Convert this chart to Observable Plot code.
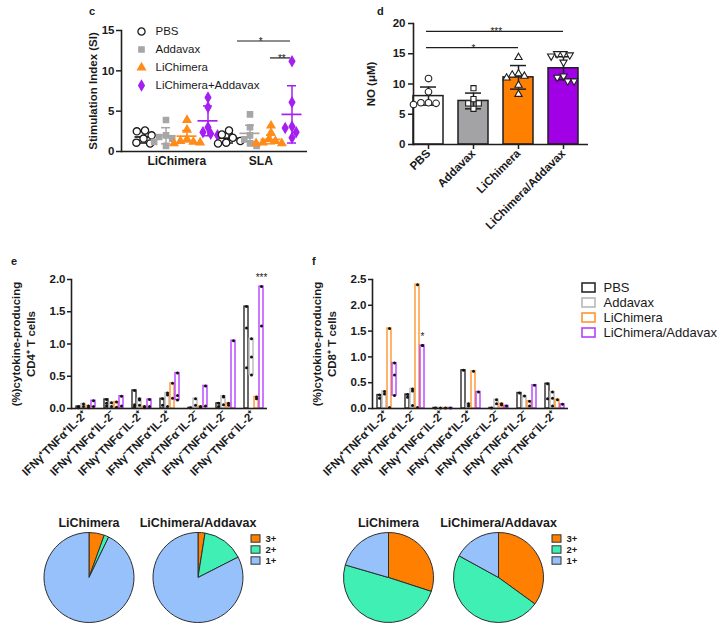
<!DOCTYPE html>
<html>
<head>
<meta charset="utf-8">
<script src="https://cdn.jsdelivr.net/npm/d3@7"></script>
<script src="https://cdn.jsdelivr.net/npm/@observablehq/plot@0.6"></script>
<style>
  html, body { margin: 0; padding: 0; background: #fff; }
  #root { position: relative; width: 720px; height: 634px; overflow: hidden; background: #fff;
          font-family: "Liberation Sans", Arial, Helvetica, sans-serif; color: #1a1a1a; }
  .panel-letter { position: absolute; font-weight: bold; font-size: 11px; line-height: 1; }
</style>
</head>
<body>
<div id="root">
  <div class="panel-letter" style="left:89px;top:6px">c</div>
  <div class="panel-letter" style="left:377px;top:6px">d</div>
  <div class="panel-letter" style="left:11px;top:256px">e</div>
  <div class="panel-letter" style="left:312px;top:256px">f</div>
</div>
<script>
// ---------------- Panel c: stimulation index ----------------
const siGroups = ["LiChimera", "SLA"];
const siSeries = ["PBS", "Addavax", "LiChimera", "LiChimera+Addavax"];
const siMean = [[1.8, 1.95, 1.9, 3.8], [1.65, 2.25, 1.5, 4.6]];
const siSd = [[0.75, 1.0, 0.7, 1.85], [0.6, 1.0, 0.55, 3.55]];
const siPoints = [
  [[2.6, 2.5, 2.0, 1.6, 1.1, 1.0], [3.9, 2.0, 1.8, 1.6, 1.2, 0.7], [3.9, 2.7, 1.5, 1.3, 1.2, 1.1, 1.0], [6.7, 5.5, 3.0, 2.4, 2.2, 2.0]],
  [[2.6, 2.1, 1.7, 1.3, 1.1, 1.0], [4.6, 3.0, 2.0, 1.5, 1.0, 0.7], [3.2, 2.3, 1.5, 1.3, 1.1, 1.0, 1.0], [11.2, 6.1, 3.1, 2.9, 2.4, 1.7]]
];
const siSig = [
  {group: "SLA", from: "PBS", to: "LiChimera+Addavax", mid: "Addavax", y: 13.7, label: "*"},
  {group: "SLA", from: "LiChimera", to: "LiChimera+Addavax", mid: "LiChimera", y: 11.6, label: "**"}
];
const siFill = ["#ffffff", "#a6a6a6", "#ff8c1a", "#a51ff2"];
const siStroke = ["#1a1a1a", "#a6a6a6", "#ff8c1a", "#a51ff2"];
const siSymbols = ["circle", "square", "triangle", "diamond"];
const siSize = [3.6, 3.0, 2.9, 3.0];

// ---------------- Panel d: NO ----------------
const noCats = ["PBS", "Addavax", "LiChimera", "LiChimera/Addavax"];
const noMean = [8.0, 7.2, 11.1, 12.6];
const noSd = [1.5, 1.3, 1.95, 1.9];
const noPoints = [
  [10.9, 8.7, 6.9, 6.9, 6.8, 6.6],
  [9.3, 7.5, 6.8, 6.8, 5.9],
  [14.4, 11.7, 11.5, 11.3, 11.0, 9.8, 8.3],
  [15.0, 15.0, 14.8, 14.6, 13.6, 11.3, 11.1, 10.5, 10.5]
];
const noSig = [
  {from: "PBS", to: "LiChimera", y: 16, label: "*"},
  {from: "PBS", to: "LiChimera/Addavax", y: 18.7, label: "***"}
];
const noFill = ["#ffffff", "#a3a3a5", "#ff8000", "#a100e6"];
const noSize = [3.3, 2.9, 2.7, 2.7];

// ---------------- Panels e/f: cytokine-producing T cells ----------------
const cytoCats = ["IFNγ⁺TNFα⁺IL-2⁺", "IFNγ⁺TNFα⁺IL-2⁻", "IFNγ⁺TNFα⁻IL-2⁺", "IFNγ⁻TNFα⁺IL-2⁺", "IFNγ⁺TNFα⁻IL-2⁻", "IFNγ⁻TNFα⁺IL-2⁻", "IFNγ⁻TNFα⁻IL-2⁺"];
const cySeries = ["PBS", "Addavax", "LiChimera", "LiChimera/Addavax"];
const barStroke = ["#2b2b2b", "#b8b8b8", "#ff9430", "#b540ff"];

const cd4Hi = [
  [0.03, 0.07, 0.04, 0.12], [0.14, 0.09, 0.10, 0.19], [0.28, 0.15, 0.03, 0.14], [0.15, 0.24, 0.39, 0.55],
  [0.01, 0.15, 0.03, 0.35], [0.08, 0.19, 0.08, 1.05], [1.58, 1.08, 0.18, 1.89]
];
const cd4Lo = [
  [0, 0, 0, 0.02], [0, 0, 0, 0], [0, 0, 0, 0], [0, 0, 0, 0.13],
  [0, 0, 0, 0.02], [0, 0, 0, 0], [0, 0.52, 0, 0]
];
const cd4Pts = [
  [[0.03, 0.01], [0.07, 0.03], [0.04, 0.01], [0.12, 0.03]],
  [[0.14, 0.08, 0.04], [0.09, 0.03], [0.10, 0.02], [0.19, 0.04]],
  [[0.28, 0.06, 0.03], [0.15, 0.13, 0.05], [0.03, 0.01], [0.14, 0.03]],
  [[0.15, 0.05], [0.24, 0.21, 0.03], [0.39, 0.16], [0.55, 0.20, 0.13]],
  [[0.01], [0.15, 0.05], [0.03, 0.02], [0.35, 0.04]],
  [[0.08, 0.03], [0.19, 0.18, 0.06], [0.08, 0.05], [1.05]],
  [[1.58, 1.25, 0.63], [1.08, 0.80, 0.52], [0.18, 0.15], [1.89, 1.28]]
];
const cd4Sig = [{c: cytoCats[6], s: "LiChimera/Addavax", y: 1.89, label: "***"}];

const cd8Hi = [
  [0.26, 0.33, 1.55, 0.88], [0.27, 0.38, 2.40, 1.22], [0.01, 0.01, 0.01, 0.01], [0.74, 0.09, 0.72, 0.32],
  [0.01, 0.17, 0.09, 0.05], [0.30, 0.24, 0.14, 0.45], [0.48, 0.32, 0.17, 0.08]
];
const cd8Lo = [
  [0, 0, 0, 0.25], [0, 0, 0, 0], [0, 0, 0, 0], [0, 0, 0, 0],
  [0, 0, 0, 0], [0, 0, 0, 0], [0, 0, 0, 0]
];
const cd8Pts = [
  [[0.26, 0.20], [0.33, 0.28], [1.55, 0.02], [0.88, 0.65, 0.25]],
  [[0.27, 0.22], [0.38, 0.34, 0.06], [2.40, 0.02], [1.22, 1.22]],
  [[0.01], [0.01], [0.01], [0.01]],
  [[0.74], [0.09, 0.05], [0.72], [0.32]],
  [[0.01], [0.17, 0.09], [0.09, 0.07], [0.05]],
  [[0.30], [0.24], [0.14, 0.05], [0.45]],
  [[0.48, 0.19], [0.32, 0.20, 0.05], [0.17], [0.08]]
];
const cd8Sig = [{c: cytoCats[1], s: "LiChimera/Addavax", y: 1.22, label: "*"}];

// ---------------- Pies ----------------
const pieNames = ["LiChimera", "LiChimera/Addavax"];
const pieLabels = ["3+", "2+", "1+"];
const pieColors = ["#ff7f00", "#40efb3", "#96c1fa"];
const cd4Pie = [[0.055, 0.017, 0.928], [0.025, 0.15, 0.825]];
const cd8Pie = [[0.30, 0.495, 0.205], [0.35, 0.48, 0.17]];

// ---------------- helpers ----------------
const FONT = '"Liberation Sans", Arial, Helvetica, sans-serif';
const INK = "#1f1f1f";
const baseStyle = {fontFamily: FONT, fontSize: "11px", background: "transparent", overflow: "visible", color: "#1a1a1a"};
const root = document.getElementById("root");
function place(svg, left, top) {
  svg.style.position = "absolute";
  svg.style.left = left + "px";
  svg.style.top = top + "px";
  root.appendChild(svg);
}
const key = (g, s) => g + "|" + s;
const yTitle = {frameAnchor: "left", rotate: -90, textAnchor: "middle", lineAnchor: "middle", fontWeight: "bold", fontSize: 11.5};

// ================= Panel c =================
const siKeys = siGroups.flatMap(g => siSeries.map(s => key(g, s)));
const siStats = siGroups.flatMap((g, i) => siSeries.map((s, j) => ({k: key(g, s), j, m: siMean[i][j], sd: siSd[i][j]})));
const siDots = siGroups.flatMap((g, i) => siSeries.flatMap((s, j) => siPoints[i][j].map(v => ({k: key(g, s), s, j, v}))));
const cDims = {width: 320, height: 200, marginLeft: 121, marginRight: 13, marginTop: 30, marginBottom: 49};
const cBand = {domain: siKeys, paddingInner: 0, paddingOuter: 0.305, align: 0.7};

place(Plot.plot({
  ...cDims, style: baseStyle,
  x: {...cBand, axis: null},
  y: {domain: [0, 15]},
  color: {type: "identity"},
  marks: [
    Plot.ruleX(siStats, {x: "k", y1: d => d.m - d.sd, y2: d => d.m + d.sd, stroke: d => siStroke[d.j], strokeWidth: 1.5}),
    Plot.tickY(siStats, {x: "k", y: "m", stroke: d => siStroke[d.j], strokeWidth: 1.7, inset: 0.5}),
    Plot.tickY(siStats, {x: "k", y: d => d.m + d.sd, stroke: d => siStroke[d.j], strokeWidth: 1.5, inset: 6}),
    Plot.tickY(siStats, {x: "k", y: d => d.m - d.sd, stroke: d => siStroke[d.j], strokeWidth: 1.5, inset: 6}),
    Plot.ruleY([0], {stroke: INK, strokeWidth: 1.6}),
    Plot.frame({anchor: "left", stroke: INK, strokeWidth: 1.6}),
    Plot.axisY({ticks: [0, 5, 10, 15], tickSize: 5, tickPadding: 2, fontWeight: "bold", fontSize: 11.5, stroke: INK, strokeWidth: 1.5, label: null}),
    Plot.text(["Stimulation Index (SI)"], {...yTitle, dx: -28}),
    Plot.text(siGroups, {x: g => key(g, "Addavax"), frameAnchor: "bottom", dx: 10.8, dy: 5, lineAnchor: "top", fontWeight: "bold", fontSize: 12}),
    Plot.ruleY([siSig[0]], {x1: d => key(d.group, d.from), x2: d => key(d.group, d.to), y: "y", insetLeft: 19, insetRight: 12, stroke: INK, strokeWidth: 1.2}),
    Plot.ruleY([siSig[1]], {x1: d => key(d.group, d.from), x2: d => key(d.group, d.to), y: "y", insetLeft: 10, insetRight: 12, stroke: INK, strokeWidth: 1.2}),
    Plot.text(siSig, {x: d => key(d.group, d.mid), y: "y", text: "label", dx: 10.8, dy: 4, lineAnchor: "bottom", fontSize: 10})
  ]
}), 0, 0);

place(Plot.plot({
  ...cDims, style: baseStyle,
  fx: {...cBand, axis: null, label: null},
  y: {domain: [0, 15], axis: null},
  r: {type: "identity"},
  symbol: {domain: siSeries, range: siSymbols},
  color: {type: "identity"},
  marks: [
    Plot.dot(siDots, Plot.dodgeX("middle", {fx: "k", y: "v", symbol: "s", r: d => siSize[d.j], fill: d => siFill[d.j], stroke: d => siStroke[d.j], strokeWidth: 1.3, padding: -0.5}))
  ]
}), 0, 0);

place(Plot.plot({
  width: 180, height: 56, marginLeft: 0, marginRight: 0, marginTop: 0, marginBottom: 0, style: baseStyle,
  y: {domain: siSeries, padding: 0, axis: null},
  r: {type: "identity"},
  symbol: {domain: siSeries, range: siSymbols},
  color: {type: "identity"},
  marks: [
    Plot.dot(siSeries, {y: d => d, frameAnchor: "left", dx: 6, symbol: d => d, r: (d, i) => siSize[i], fill: (d, i) => siFill[i], stroke: (d, i) => siStroke[i], strokeWidth: 1.3}),
    Plot.text(siSeries, {y: d => d, frameAnchor: "left", dx: 20, textAnchor: "start", fontSize: 11.5})
  ]
}), 135, 30);

// ================= Panel d =================
const noRows = noCats.map((c, j) => ({c, j, m: noMean[j], sd: noSd[j]}));
const noDots = noCats.flatMap((c, j) => noPoints[j].map(v => ({c, j, v})));
const dDims = {width: 240, height: 240, marginLeft: 53, marginRight: 12, marginTop: 23, marginBottom: 96};
const dBand = {domain: noCats, paddingInner: 0.344, paddingOuter: 0.087, align: 0};

place(Plot.plot({
  ...dDims, style: baseStyle,
  x: {...dBand},
  y: {domain: [0, 20]},
  color: {type: "identity"},
  marks: [
    Plot.barY(noRows, {x: "c", y: "m", fill: d => noFill[d.j], stroke: INK, strokeWidth: 1.5}),
    Plot.ruleX(noRows, {x: "c", y1: d => d.m - d.sd, y2: d => d.m + d.sd, stroke: INK, strokeWidth: 1.5}),
    Plot.tickY(noRows, {x: "c", y: d => d.m + d.sd, stroke: INK, strokeWidth: 1.5, inset: 7}),
    Plot.tickY(noRows, {x: "c", y: d => d.m - d.sd, stroke: INK, strokeWidth: 1.5, inset: 7}),
    Plot.ruleY([0], {stroke: INK, strokeWidth: 1.6}),
    Plot.frame({anchor: "left", stroke: INK, strokeWidth: 1.6}),
    Plot.axisY({ticks: [0, 5, 10, 15, 20], tickSize: 5, tickPadding: 3, fontWeight: "bold", fontSize: 11.5, stroke: INK, strokeWidth: 1.5, label: null}),
    Plot.axisX({tickRotate: -45, tickSize: 5, tickPadding: 2, fontWeight: "bold", fontSize: 11.5, stroke: INK, strokeWidth: 1.5, label: null}),
    Plot.text(["NO (μM)"], {...yTitle, dx: -42}),
    Plot.ruleY(noSig, {x1: "from", x2: "to", y: "y", insetLeft: 13, insetRight: 15, stroke: INK, strokeWidth: 1.2}),
    Plot.text(noSig, {filter: d => d.label === "*", x: () => "Addavax", y: "y", text: "label", dy: 4, lineAnchor: "bottom", fontSize: 10}),
    Plot.text(noSig, {filter: d => d.label === "***", x: () => "Addavax", y: "y", text: "label", dx: 22.8, dy: 4, lineAnchor: "bottom", fontSize: 10})
  ]
}), 360, 0);

place(Plot.plot({
  ...dDims, style: baseStyle,
  fx: {...dBand, axis: null, label: null},
  y: {domain: [0, 20], axis: null},
  r: {type: "identity"},
  symbol: {domain: noCats, range: ["circle", "square", "triangle", "triangle"]},
  marks: [
    Plot.dot(noDots, Plot.dodgeX("middle", {fx: "c", y: "v", symbol: "c", rotate: d => d.j === 3 ? 180 : 0, r: d => noSize[d.j], fill: "white", stroke: INK, strokeWidth: 1.1, padding: 0.3}))
  ]
}), 360, 0);

// ================= Panels e / f =================
function cytoPlot({hi, lo, pts, sig, yMax, yTicks, line2, marginLeft, marginRight}) {
  const bars = cytoCats.flatMap((c, i) => cySeries.map((s, j) => ({c, s, j, lo: lo[i][j], hi: hi[i][j]})));
  const dots = cytoCats.flatMap((c, i) => cySeries.flatMap((s, j) => pts[i][j].map(v => ({c, s, v}))));
  return Plot.plot({
    width: 300, height: 262, marginLeft, marginRight, marginTop: 39, marginBottom: 94, style: baseStyle,
    fx: {domain: cytoCats, padding: 0, label: null},
    x: {domain: cySeries, paddingInner: 0.2, paddingOuter: 0.6, axis: null},
    y: {domain: [0, yMax]},
    color: {type: "identity"},
    marks: [
      Plot.barY(bars, {fx: "c", x: "s", y1: "lo", y2: "hi", fill: "white", stroke: d => barStroke[d.j], strokeWidth: 1.4}),
      Plot.dot(dots, {fx: "c", x: "s", y: "v", r: 1.5, fill: "#111"}),
      Plot.ruleY([0], {stroke: INK, strokeWidth: 1.6}),
      Plot.frame({anchor: "left", facetAnchor: "left", stroke: INK, strokeWidth: 1.6}),
      Plot.axisY({ticks: yTicks, tickFormat: d3.format(".1f"), tickSize: 4, tickPadding: 2, fontWeight: "bold", fontSize: 11.5, stroke: INK, strokeWidth: 1.5, label: null}),
      Plot.axisFx({anchor: "bottom", tickRotate: -45, tickSize: 0, tickPadding: 4, fontWeight: "bold", fontSize: 11.5, label: null}),
      Plot.text(["(%)cytokine-producing"], {...yTitle, fx: () => cytoCats[0], dx: -55}),
      Plot.text([line2], {...yTitle, fx: () => cytoCats[0], dx: -40}),
      Plot.text(sig, {fx: "c", x: "s", y: "y", text: "label", dy: -9, fontSize: 10})
    ]
  });
}
place(cytoPlot({hi: cd4Hi, lo: cd4Lo, pts: cd4Pts, sig: cd4Sig, yMax: 2.0, yTicks: [0, 0.5, 1, 1.5, 2], line2: "CD4⁺ T cells", marginLeft: 71, marginRight: 33}), 0, 240);
place(cytoPlot({hi: cd8Hi, lo: cd8Lo, pts: cd8Pts, sig: cd8Sig, yMax: 2.5, yTicks: [0, 0.5, 1, 1.5, 2, 2.5], line2: "CD8⁺ T cells", marginLeft: 72, marginRight: 32}), 300, 240);

place(Plot.plot({
  width: 140, height: 60, marginLeft: 4, marginRight: 123, marginTop: 0, marginBottom: 0, style: baseStyle,
  x: {domain: [0, 1], axis: null},
  y: {domain: cySeries, padding: 0, axis: null},
  color: {type: "identity"},
  marks: [
    Plot.barX(cySeries, {y: d => d, x1: 0, x2: 1, fill: "white", stroke: (d, i) => barStroke[i], strokeWidth: 1.6, insetTop: 3, insetBottom: 3}),
    Plot.text(cySeries, {y: d => d, frameAnchor: "right", dx: 8, textAnchor: "start", fontSize: 13})
  ]
}), 578, 280);

// ================= Pies =================
function wedge(a0, a1) {
  return {draw(context, size) {
    const r = Math.sqrt(size / Math.PI);
    context.moveTo(0, 0);
    context.arc(0, 0, r, a0 - Math.PI / 2, a1 - Math.PI / 2);
    context.closePath();
  }};
}
function piePlot(shares, marginLeft, marginRight) {
  const marks = [];
  pieNames.forEach((name, i) => {
    d3.pie().sort(null)(shares[i]).forEach((a, j) => {
      marks.push(Plot.dot([name], {x: d => d, frameAnchor: "middle", r: 45, symbol: wedge(a.startAngle, a.endAngle),
        fill: pieColors[j], stroke: "#2e2e2e", strokeWidth: 1}));
    });
  });
  marks.push(Plot.axisX({anchor: "top", tickSize: 0, tickPadding: 6, fontWeight: "bold", fontSize: 12.5, label: null}));
  return Plot.plot({width: 300, height: 129, marginLeft, marginRight, marginTop: 27, marginBottom: 12, style: baseStyle,
    x: {type: "band", domain: pieNames, padding: 0}, marks});
}
function pieLegend() {
  return Plot.plot({
    width: 40, height: 34, marginLeft: 4, marginRight: 27, marginTop: 0, marginBottom: 0, style: baseStyle,
    x: {domain: [0, 1], axis: null},
    y: {domain: pieLabels, padding: 0, axis: null},
    color: {type: "identity"},
    marks: [
      Plot.barX(pieLabels, {y: d => d, x1: 0, x2: 1, fill: (d, i) => pieColors[i], stroke: "#333", strokeWidth: 1, insetTop: 1.8, insetBottom: 1.8}),
      Plot.text(pieLabels, {y: d => d, frameAnchor: "right", dx: 5, textAnchor: "start", fontWeight: "bold", fontSize: 9.5})
    ]
  });
}
place(piePlot(cd4Pie, 33.5, 48.5), 0, 505);
place(piePlot(cd8Pie, 33, 47), 300, 505);
place(pieLegend(), 247, 532);
place(pieLegend(), 548, 532);
</script>
</body>
</html>
